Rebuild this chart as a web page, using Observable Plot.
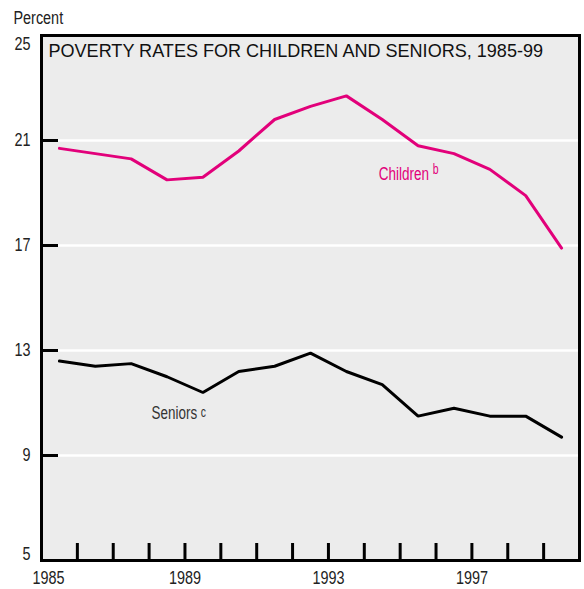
<!DOCTYPE html>
<html>
<head>
<meta charset="utf-8">
<script src="https://cdn.jsdelivr.net/npm/d3@7"></script>
<script src="https://cdn.jsdelivr.net/npm/@observablehq/plot@0.6"></script>
<style>
  html, body { margin: 0; padding: 0; background: #fff; }
  #chart svg { display: block; }
</style>
</head>
<body>
<div id="chart"></div>
<script>
const years = [1985, 1986, 1987, 1988, 1989, 1990, 1991, 1992, 1993, 1994, 1995, 1996, 1997, 1998, 1999];
const children = [20.7, 20.5, 20.3, 19.5, 19.6, 20.6, 21.8, 22.3, 22.7, 21.8, 20.8, 20.5, 19.9, 18.9, 16.9];
const seniors = [12.6, 12.4, 12.5, 12.0, 11.4, 12.2, 12.4, 12.9, 12.2, 11.7, 10.5, 10.8, 10.5, 10.5, 9.7];
const yTicks = [5, 9, 13, 17, 21, 25];
const yGrid = [9, 13, 17, 21];
const yLabelsInner = [9, 13, 17, 21];
const yLabelTop = [25];
const yLabelBottom = [5];
const xTickYears = [1986, 1987, 1988, 1989, 1990, 1991, 1992, 1993, 1994, 1995, 1996, 1997, 1998, 1999];
const xLabels = [1989, 1993, 1997];
const xFirstLabel = [1985];
const yUnit = "Percent";
const title = "POVERTY RATES FOR CHILDREN AND SENIORS, 1985-99";
const seriesLabels = [
  {name: "Children", sup: "b", x: 1994.4, y: 19.7, color: "#e2007a"},
  {name: "Seniors", sup: "c", x: 1988.07, y: 10.6, color: "#333333"}
];

const rows = [];
years.forEach((yr, i) => {
  rows.push({series: "Children", year: yr, value: children[i]});
  rows.push({series: "Seniors", year: yr, value: seniors[i]});
});

const font = "'Liberation Sans', Arial, sans-serif";
const pink = "#e2007a";
const fmt = d => String(d);
const axisStyle = {tickSize: 0, tickFormat: fmt, fontSize: 18, fill: "#222", label: null};
const supRaise = name => name === "Children" ? -6 : -2;

const chart = Plot.plot({
  width: 584,
  height: 589,
  marginLeft: 41,
  marginRight: 5,
  marginTop: 35,
  marginBottom: 29,
  style: {fontFamily: font, fontSize: "18px", color: "#222", background: "#fff"},
  x: {domain: [1985, 2000], axis: null},
  y: {domain: [5, 25], axis: null},
  marks: [
    Plot.frame({fill: "#ececec"}),
    Plot.ruleY(yGrid, {stroke: "#fff", strokeWidth: 2.5}),
    Plot.line(rows, {
      x: d => d.year + 0.5, y: "value", z: "series",
      stroke: d => d.series === "Children" ? pink : "#000",
      strokeWidth: 3, strokeLinejoin: "miter"
    }),
    Plot.tickY(yTicks, {y: d => d, stroke: "#000", strokeWidth: 3, insetRight: 521}),
    Plot.tickX(xTickYears, {x: d => d, stroke: "#000", strokeWidth: 3, insetTop: 508}),
    Plot.frame({stroke: "#000", strokeWidth: 3}),
    Plot.axisY(yLabelsInner, {...axisStyle, tickPadding: 11}),
    Plot.axisY(yLabelTop, {...axisStyle, tickPadding: 11, dy: 9}),
    Plot.axisY(yLabelBottom, {...axisStyle, tickPadding: 11, dy: -6}),
    Plot.axisX(xLabels, {...axisStyle, tickPadding: 11}),
    Plot.axisX(xFirstLabel, {...axisStyle, tickPadding: 11, dx: 7}),
    Plot.text([yUnit], {frameAnchor: "top-left", lineAnchor: "middle", text: d => d, dx: -28, dy: -17, textAnchor: "start", fontSize: 18, fill: "#222"}),
    Plot.text([title], {frameAnchor: "top-left", lineAnchor: "middle", text: d => d, dx: 7, dy: 15, textAnchor: "start", fontSize: 19, fill: "#111"}),
    Plot.text(seriesLabels, {x: "x", y: "y", text: "name", fill: "color", textAnchor: "start", lineAnchor: "middle", fontSize: 18})
  ]
});

document.getElementById("chart").appendChild(chart);

// superscript note letters as tspans inside each series label
const NS = "http://www.w3.org/2000/svg";
chart.querySelectorAll("text").forEach(t => {
  const lab = seriesLabels.find(d => d.name === t.textContent);
  if (!lab) return;
  const sp = document.createElementNS(NS, "tspan");
  sp.textContent = lab.sup;
  sp.setAttribute("font-size", "14");
  sp.setAttribute("dx", "5");
  sp.setAttribute("dy", String(supRaise(lab.name)));
  t.appendChild(sp);
});

// condensed lettering, like the original's narrow typeface
function squeeze(t, k) {
  const w = t.getComputedTextLength();
  if (!(w > 0)) return 0;
  t.setAttribute("textLength", (w * k).toFixed(2));
  t.setAttribute("lengthAdjust", "spacingAndGlyphs");
  return w * k;
}
chart.querySelectorAll("text").forEach(t => {
  if (t.textContent === title) squeeze(t, 0.95);
  else squeeze(t, 0.8);
});
</script>
</body>
</html>
